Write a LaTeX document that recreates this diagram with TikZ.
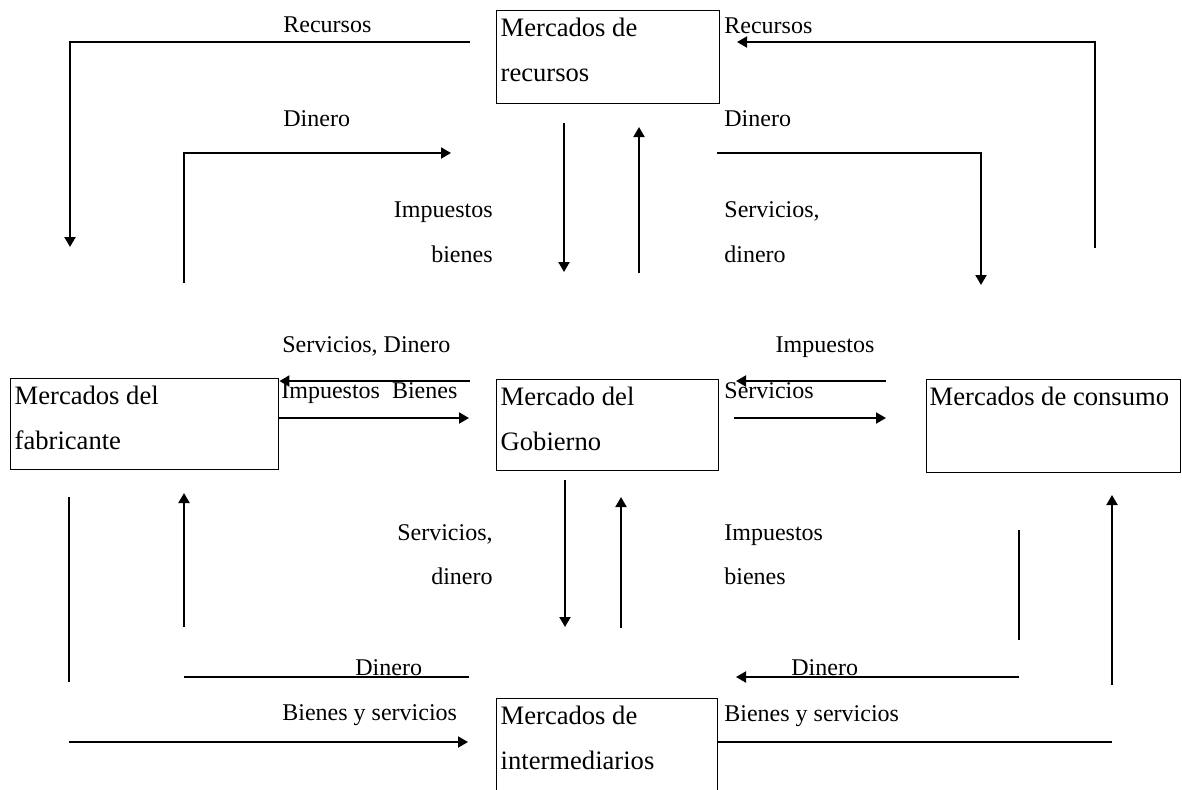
\documentclass[tikz,border=0pt]{standalone}
\usepackage{fontspec}
\setmainfont{Liberation Serif}
\usetikzlibrary{arrows.meta,positioning}

\begin{document}
\begin{tikzpicture}[
  x=0.5pt, y=-0.5pt,
  market/.style={rectangle, draw, line width=0.7pt, anchor=north west, align=flush left,
    inner xsep=2pt, inner ysep=0pt, text height=13pt, text depth=33pt,
    font=\fontsize{13.3}{22.5}\selectfont},
  lbl/.style={inner sep=0pt, font=\fontsize{12}{14}\selectfont},
  flow/.style={line width=1pt, -{Triangle[length=5pt,width=5.5pt]}},
  bare/.style={line width=1pt}
]
\useasboundingbox (0,0) rectangle (1182,789);
\clip (0,0) rectangle (1182,789);

% markets
\node[market, text width=107.5pt, text depth=33.5pt] (rec) at (496,10) {Mercados de\\recursos};
\node[market, text width=130pt, text depth=32.5pt] (fab) at (10,378) {Mercados del\\fabricante};
\node[market, text width=107pt, text depth=32.5pt] (gob) at (496,379) {Mercado del\\Gobierno};
\node[market, inner xsep=1.5pt, text width=124pt, text depth=33.5pt] (con) at (926,379) {Mercados de consumo};
\node[market, text width=106.5pt, text depth=40pt] (int) at (496,698) {Mercados de\\intermediarios};

% labels
\node[lbl, anchor=base west] (recL) at (283,32) {Recursos};
\node[lbl, anchor=base west] (dinL) at (283,126) {Dinero};
\node[lbl, anchor=base east] (impU) at (493,217) {Impuestos};
\node[lbl, anchor=base east] (bieU) at (493,262) {bienes};
\node[lbl, anchor=base west] (recR) at (724,33) {Recursos};
\node[lbl, anchor=base west] (dinR) at (724,126) {Dinero};
\node[lbl, anchor=base west] (serU) at (724,217) {Servicios,};
\node[lbl, anchor=base west] (dneU) at (724,262) {dinero};

\node[lbl, anchor=base west] (serdin) at (282,352) {Servicios, Dinero};
\node[lbl, anchor=base west] (impbie) at (281,398) {Impuestos~~Bienes};
\node[lbl, anchor=base] (impM) at (825,352) {Impuestos};
\node[lbl, anchor=base west] (serM) at (724,398) {Servicios};

\node[lbl, anchor=base east] (serD) at (493,540) {Servicios,};
\node[lbl, anchor=base east] (dneD) at (493,584) {dinero};
\node[lbl, anchor=base west] (impD) at (724,540) {Impuestos};
\node[lbl, anchor=base west] (bieD) at (724,584) {bienes};
\node[lbl, anchor=base west] (dinBL) at (355,675) {Dinero};
\node[lbl, anchor=base west] (dinBR) at (791,675) {Dinero};
\node[lbl, anchor=base west] (bysL) at (282,720) {Bienes y servicios};
\node[lbl, anchor=base west] (bysR) at (724,721) {Bienes y servicios};

% flow ends
\coordinate (rl1) at (470,42);   \coordinate (rl2) at (70,247);
\coordinate (dl1) at (184,283);  \coordinate (dl2) at (451,153);
\coordinate (rd1) at (564,123);  \coordinate (rd2) at (564,272);
\coordinate (ru1) at (639,273);  \coordinate (ru2) at (639,127);
\coordinate (rr1) at (1095,248); \coordinate (rr2) at (737,42);
\coordinate (dr1) at (717,153);  \coordinate (dr2) at (981,285);

\coordinate (sd1) at (470,381);
\coordinate (ib2) at (469,418);
\coordinate (im1) at (886,381);  \coordinate (im2) at (736,381);
\coordinate (sv1) at (734,418);  \coordinate (sv2) at (886,418);

\coordinate (fl1) at (69,497);   \coordinate (fl2) at (69,682);
\coordinate (fu1) at (184,627);  \coordinate (fu2) at (184,493);
\coordinate (gd1) at (565,480);  \coordinate (gd2) at (565,627);
\coordinate (gu1) at (621,628);  \coordinate (gu2) at (621,497);
\coordinate (cl1) at (1019,530); \coordinate (cl2) at (1019,640);
\coordinate (cu1) at (1112,685); \coordinate (cu2) at (1112,495);
\coordinate (dbl1) at (184,677); \coordinate (dbl2) at (469,677);
\coordinate (dbr1) at (1019,677); \coordinate (dbr2) at (736,677);
\coordinate (bl1) at (69,742);   \coordinate (bl2) at (468,742);
\coordinate (br1) at (1112,742);

% top flows
\draw[flow] (rl1) -| (rl2);
\draw[flow] (dl1) |- (dl2);
\draw[flow] (rd1) -- (rd2);
\draw[flow] (ru1) -- (ru2);
\draw[flow] (rr1) |- (rr2);
\draw[flow] (dr1) -| (dr2);

% middle flows
\draw[flow] (sd1) -- (fab.east |- sd1);
\draw[flow] (fab.east |- ib2) -- (ib2);
\draw[flow] (im1) -- (im2);
\draw[flow] (sv1) -- (sv2);

% bottom flows
\draw[bare] (fl1) -- (fl2);
\draw[flow] (fu1) -- (fu2);
\draw[flow] (gd1) -- (gd2);
\draw[flow] (gu1) -- (gu2);
\draw[bare] (cl1) -- (cl2);
\draw[flow] (cu1) -- (cu2);
\draw[bare] (dbl1) -- (dbl2);
\draw[flow] (dbr1) -- (dbr2);
\draw[flow] (bl1) -- (bl2);
\draw[bare] (br1) -- (int.east |- br1);
\end{tikzpicture}
\end{document}
